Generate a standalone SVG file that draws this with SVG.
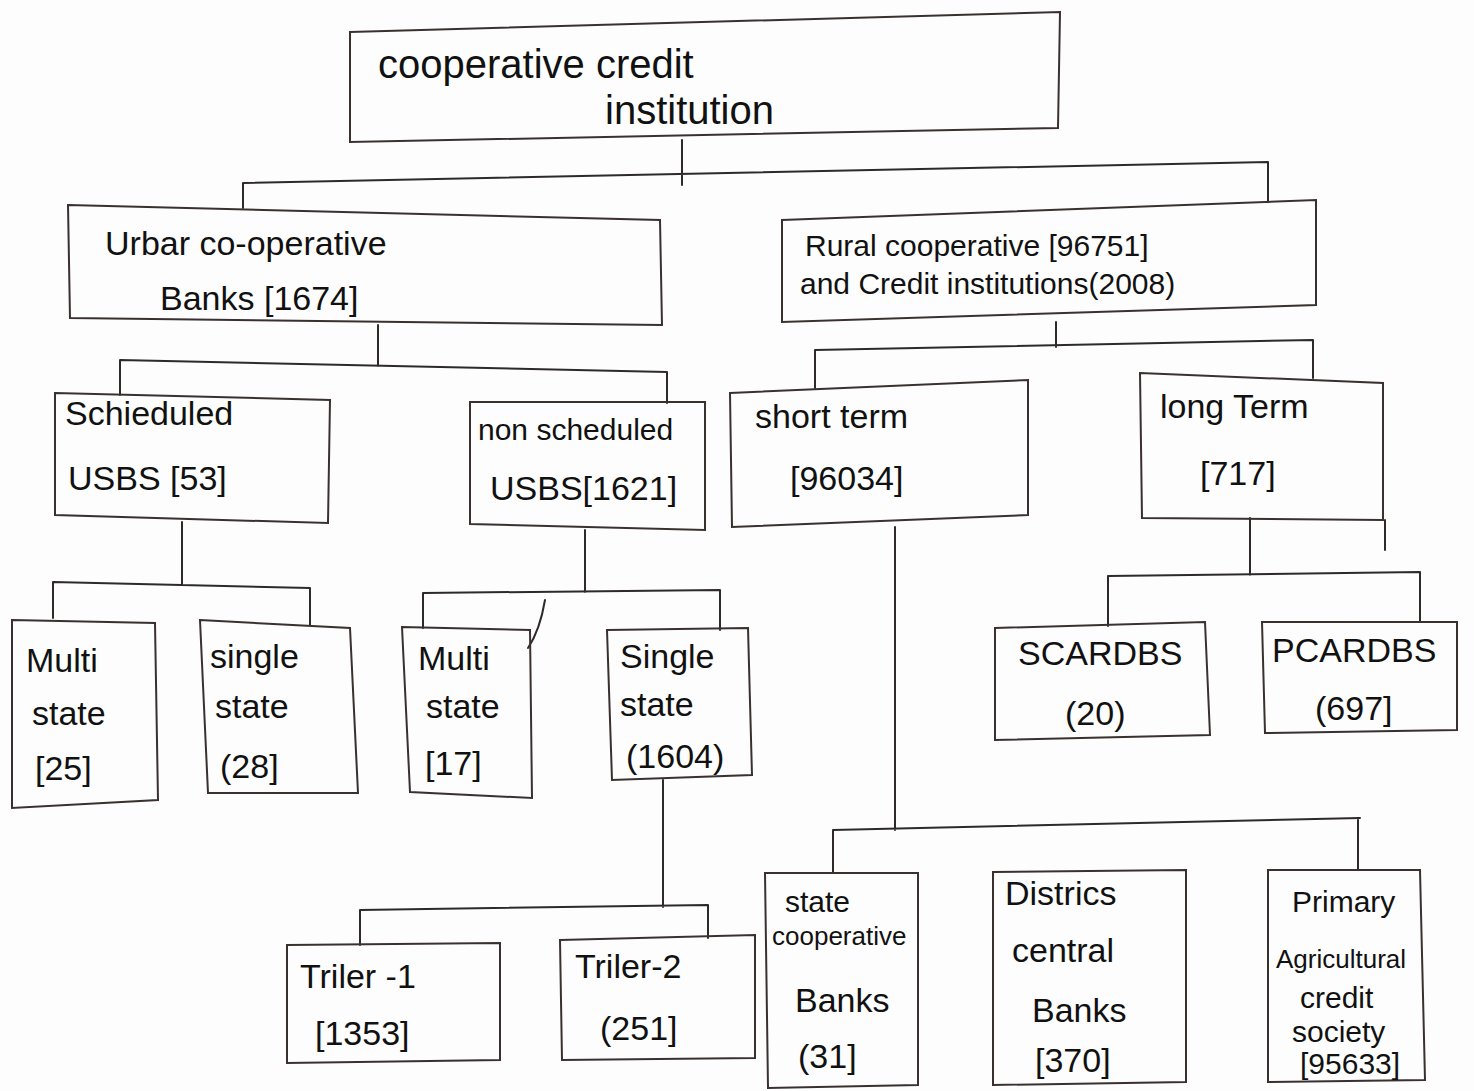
<svg xmlns="http://www.w3.org/2000/svg" width="1474" height="1091" viewBox="0 0 1474 1091">
<style>
.box{fill:none;stroke:#3b3030;stroke-width:2}
.ln{fill:none;stroke:#2e2a2a;stroke-width:2;stroke-linecap:round}
text{font-family:"Liberation Sans","DejaVu Sans",sans-serif;fill:#111;font-size:34px}
.big{font-size:40px}
.sm{font-size:30px}
.xs{font-size:26px}
</style>
<rect width="1474" height="1091" fill="#fdfdfd"/>
<g id="connectors">
<path class="ln" d="M682,140 V185 M243,183 L1268,162 M243,183 V208 M1268,162 V202"/>
<path class="ln" d="M378,325 V366 M120,360 L667,372 M120,360 V395 M667,372 V403"/>
<path class="ln" d="M1056,322 V347 M815,350 L1313,340 M815,350 V388 M1313,340 V378"/>
<path class="ln" d="M182,522 V585 M53,582 L310,588 M53,582 V618 M310,588 V625"/>
<path class="ln" d="M585,530 V592 M423,593 L720,590 M423,593 V628 M720,590 V630 M545,600 Q540,630 528,648"/>
<path class="ln" d="M663,780 V907 M360,910 L708,905 M360,910 V945 M708,905 V938"/>
<path class="ln" d="M1250,518 V575 M1108,576 L1420,572 M1108,576 V626 M1420,572 V622 M1385,520 V550"/>
<path class="ln" d="M895,527 V830 M833,830 L1360,818 M833,830 V873 M1358,818 V870"/>
</g>
<g id="root"><polygon class="box" points="350,32 1060,12 1058,128 350,142"/>
<text class="big" x="378" y="78">cooperative credit</text><text class="big" x="605" y="124">institution</text></g>
<g id="urban"><polygon class="box" points="68,205 660,220 662,325 70,318"/>
<text x="105" y="255">Urbar co-operative</text><text x="160" y="310">Banks   [1674]</text></g>
<g id="rural"><polygon class="box" points="782,220 1316,200 1316,305 782,322"/>
<text class="sm" x="805" y="256">Rural cooperative [96751]</text><text class="sm" x="800" y="294">and Credit institutions(2008)</text></g>
<g id="scheduled"><polygon class="box" points="55,393 330,400 328,523 55,515"/>
<text x="65" y="425">Schieduled</text><text x="68" y="490">USBS [53]</text></g>
<g id="nonscheduled"><polygon class="box" points="470,402 705,402 705,530 470,524"/>
<text class="sm" x="478" y="440">non scheduled</text><text x="490" y="500">USBS[1621]</text></g>
<g id="shortterm"><polygon class="box" points="730,393 1028,380 1028,515 732,527"/>
<text x="755" y="428">short term</text><text x="790" y="490">[96034]</text></g>
<g id="longterm"><polygon class="box" points="1140,373 1383,383 1383,520 1142,518"/>
<text x="1160" y="418">long Term</text><text x="1200" y="485">[717]</text></g>
<g id="multi25"><polygon class="box" points="12,620 155,623 158,800 12,808"/>
<text x="26" y="672">Multi</text><text x="32" y="725">state</text><text x="35" y="780">[25]</text></g>
<g id="single28"><polygon class="box" points="200,620 350,628 358,793 208,793"/>
<text x="210" y="668">single</text><text x="215" y="718">state</text><text x="220" y="778">(28]</text></g>
<g id="multi17"><polygon class="box" points="402,627 530,630 532,798 410,792"/>
<text x="418" y="670">Multi</text><text x="426" y="718">state</text><text x="425" y="775">[17]</text></g>
<g id="single1604"><polygon class="box" points="607,630 748,628 752,775 612,780"/>
<text x="620" y="668">Single</text><text x="620" y="716">state</text><text x="626" y="768">(1604)</text></g>
<g id="triler1"><polygon class="box" points="287,945 500,943 500,1060 287,1063"/>
<text x="300" y="988">Triler -1</text><text x="315" y="1045">[1353]</text></g>
<g id="triler2"><polygon class="box" points="560,940 755,935 755,1058 562,1060"/>
<text x="575" y="978">Triler-2</text><text x="600" y="1040">(251]</text></g>
<g id="scardbs"><polygon class="box" points="995,628 1205,622 1210,735 995,740"/>
<text x="1018" y="665">SCARDBS</text><text x="1065" y="725">(20)</text></g>
<g id="pcardbs"><polygon class="box" points="1262,622 1457,622 1457,730 1265,733"/>
<text x="1272" y="662">PCARDBS</text><text x="1315" y="720">(697]</text></g>
<g id="statecoop"><polygon class="box" points="765,873 918,873 918,1085 768,1088"/>
<text class="sm" x="785" y="912">state</text><text class="xs" x="772" y="945">cooperative</text><text x="795" y="1012">Banks</text><text x="798" y="1068">(31]</text></g>
<g id="district"><polygon class="box" points="993,872 1186,870 1186,1082 993,1085"/>
<text x="1005" y="905">Districs</text><text x="1012" y="962">central</text><text x="1032" y="1022">Banks</text><text x="1035" y="1072">[370]</text></g>
<g id="primary"><polygon class="box" points="1268,870 1420,870 1425,1080 1268,1082"/>
<text class="sm" x="1292" y="912">Primary</text><text class="xs" x="1276" y="968">Agricultural</text><text class="sm" x="1300" y="1008">credit</text><text class="sm" x="1292" y="1042">society</text><text class="sm" x="1300" y="1074">[95633]</text></g>
</svg>
